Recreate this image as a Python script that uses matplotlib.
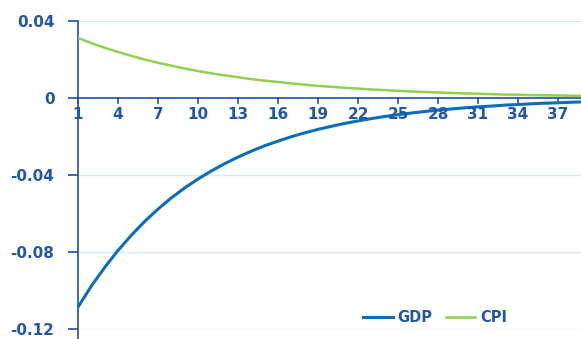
import matplotlib
matplotlib.use("Agg")
import matplotlib.pyplot as plt

periods = list(range(1, 41))
gdp = [-0.1086, -0.0977, -0.0880, -0.0792, -0.0713, -0.0641, -0.0577, -0.0519, -0.0467, -0.0421,
       -0.0379, -0.0341, -0.0307, -0.0276, -0.0248, -0.0224, -0.0201, -0.0181, -0.0163, -0.0147,
       -0.0132, -0.0119, -0.0107, -0.0096, -0.0087, -0.0078, -0.0070, -0.0063, -0.0057, -0.0051,
       -0.0046, -0.0042, -0.0037, -0.0034, -0.0030, -0.0027, -0.0025, -0.0022, -0.0020, -0.0018]
cpi = [0.0312, 0.0285, 0.0261, 0.0239, 0.0219, 0.0200, 0.0183, 0.0168, 0.0153, 0.0140,
       0.0128, 0.0118, 0.0108, 0.0098, 0.0090, 0.0083, 0.0076, 0.0069, 0.0063, 0.0058,
       0.0053, 0.0049, 0.0044, 0.0041, 0.0037, 0.0034, 0.0031, 0.0029, 0.0026, 0.0024,
       0.0022, 0.0020, 0.0018, 0.0017, 0.0015, 0.0014, 0.0013, 0.0012, 0.0011, 0.0010]
yticks = [0.04, 0, -0.04, -0.08, -0.12]
ytick_labels = ["0.04", "0", "-0.04", "-0.08", "-0.12"]
xticks = list(range(1, 38, 3))

axis_col = "#1F50A0"
text_col = "#2356A8"
grid_col = "#D8ECF8"

fig = plt.figure(figsize=(5.81, 3.39), dpi=100)
ax = fig.add_axes([78/581, 1 - 329/339, 1 - 78/581, (329 - 21)/339])

for y in [0.04, -0.04, -0.08, -0.12]:
    ax.axhline(y, color=grid_col, lw=1.0, zorder=0)

ax.plot(periods, gdp, color="#0A6EBD", lw=2.2, label="GDP", zorder=3)
ax.plot(periods, cpi, color="#92D050", lw=1.8, label="CPI", zorder=3)

for s in ["top", "right", "bottom"]:
    ax.spines[s].set_visible(False)
ax.spines["left"].set_color(axis_col)
ax.spines["left"].set_linewidth(1.2)
ax.spines["left"].set_bounds(-0.126, 0.04)

ax.axhline(0, color=axis_col, lw=1.2, zorder=2)

ax.set_yticks(yticks)
ax.set_yticklabels(ytick_labels)
ax.tick_params(axis="y", direction="out", length=7, width=1.2, color=axis_col,
               labelcolor=text_col, labelsize=11, pad=10)
for lab in ax.get_yticklabels():
    lab.set_fontweight("bold")

ax.xaxis.set_visible(False)
for x in xticks:
    ax.plot([x, x], [0, -0.0028], color=axis_col, lw=1.2, zorder=2, clip_on=False)
    ax.text(x, -0.0045, str(x), ha="center", va="top", color=text_col, fontsize=11,
            fontweight="bold", zorder=4)

leg = ax.legend(loc="center right", bbox_to_anchor=(507/581, 1 - 318/339),
                bbox_transform=fig.transFigure, ncol=2, frameon=False,
                borderpad=0, borderaxespad=0,
                handlelength=2.0, handletextpad=0.35, columnspacing=0.9,
                prop={"size": 10.5, "weight": "bold"})
for t in leg.get_texts():
    t.set_color(text_col)

ax.set_xlim(1, 38.72)
ax.set_ylim(-0.12, 0.04)

fig.savefig("out.png", dpi=100)
